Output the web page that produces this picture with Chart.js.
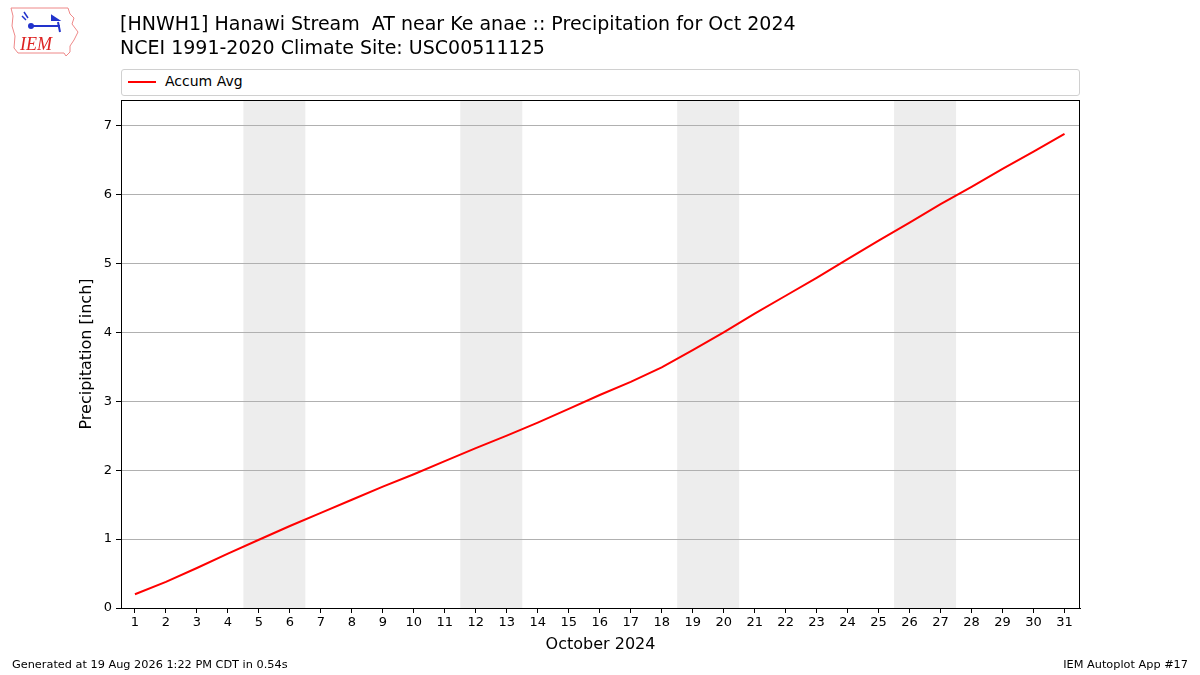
<!DOCTYPE html>
<html>
<head>
<meta charset="utf-8">
<script src="https://cdn.jsdelivr.net/npm/chart.js@4/dist/chart.umd.min.js"></script>
<style>
    body { margin: 0; background: #fff; font-family: "DejaVu Sans", sans-serif; }
    #wrap { position: relative; width: 1200px; height: 675px; overflow: hidden; }
    #chart { position: absolute; left: 0; top: 0; }
    .title { position: absolute; left: 120px; font-size: 19px; color: #000; white-space: pre; }
    #legend { position: absolute; left: 121px; top: 69px; width: 957px; height: 25px;
        border: 1px solid #d0d0d0; border-radius: 3px; background: #fff; }
    #legend .swatch { position: absolute; left: 6px; top: 11px; width: 28px; height: 2px; background: #f00; }
    #legend .lbl { position: absolute; left: 43px; top: 3px; font-size: 14px; }
    .foot { position: absolute; top: 658px; font-size: 11.3px; color: #000; }
</style>
</head>
<body>
<div id="wrap">
    <canvas id="chart" width="1200" height="675"></canvas>
    <svg style="position:absolute;left:8px;top:6px" width="72" height="54" viewBox="0 0 72 54">
        <path d="M3,2 L60,2 L62,8 L66,12 L64,18 L70,26 L66,34 L62,40 L62,46 L58,50 L56,47 L10,47 L6,42 L7,30 L4,20 L5,10 Z"
              fill="none" stroke="#e88" stroke-width="1"/>
        <path d="M22,20 L52,20 M50,16 L52,26 M44,10 L50,14 L44,14 Z" stroke="#2233cc" stroke-width="2" fill="#2233cc"/>
        <circle cx="23" cy="20" r="3" fill="#2233cc"/>
        <path d="M16,6 L20,12 M14,10 L18,14" stroke="#2233cc" stroke-width="1.5"/>
        <text x="12" y="44" font-family="Liberation Serif, serif" font-style="italic" font-size="18" fill="#d22">IEM</text>
    </svg>
    <div class="title" style="top:12px">[HNWH1] Hanawi Stream  AT near Ke anae :: Precipitation for Oct 2024</div>
    <div class="title" style="top:36px">NCEI 1991-2020 Climate Site: USC00511125</div>
    <div id="legend"><div class="swatch"></div><div class="lbl">Accum Avg</div></div>
    <div class="foot" style="left:12px">Generated at 19 Aug 2026 1:22 PM CDT in 0.54s</div>
    <div class="foot" style="right:12px">IEM Autoplot App #17</div>
</div>
<script>
// days of October 2024
const days = [1, 2, 3, 4, 5, 6, 7, 8, 9, 10, 11, 12, 13, 14, 15, 16,
    17, 18, 19, 20, 21, 22, 23, 24, 25, 26, 27, 28, 29, 30, 31];
// accumulated average precipitation [inch]
const accumAvg = [0.20, 0.38, 0.58, 0.79, 0.99, 1.19, 1.38, 1.57, 1.76, 1.94,
    2.13, 2.32, 2.50, 2.69, 2.89, 3.09, 3.28, 3.49, 3.74, 4.00,
    4.27, 4.53, 4.79, 5.06, 5.33, 5.59, 5.86, 6.11, 6.37, 6.62, 6.88];
const yTicks = [0, 1, 2, 3, 4, 5, 6, 7];
// first day (Saturday) of each weekend
const weekendStarts = [5, 12, 19, 26];

const font = 'DejaVu Sans';

// grey weekend bands + top/right frame
const framePlugin = {
    id: 'frame',
    beforeDraw: function (chart) {
        var ctx = chart.ctx, x = chart.scales.x, a = chart.chartArea;
        ctx.save();
        ctx.fillStyle = '#ededed';
        weekendStarts.forEach(function (d) {
            var x0 = x.getPixelForValue(d - 0.5);
            var x1 = x.getPixelForValue(d + 1.5);
            ctx.fillRect(x0, a.top, x1 - x0, a.bottom - a.top);
        });
        ctx.restore();
    },
    afterDraw: function (chart) {
        var ctx = chart.ctx, a = chart.chartArea;
        ctx.save();
        ctx.strokeStyle = '#000';
        ctx.lineWidth = 1;
        ctx.strokeRect(a.left + 0.5, a.top + 0.5, a.right - a.left - 1, a.bottom - a.top);
        ctx.restore();
    }
};

const data = {
    datasets: [{
        label: 'Accum Avg',
        data: days.map(function (d, i) { return { x: d, y: accumAvg[i] }; }),
        borderColor: '#ff0000',
        borderWidth: 2,
        pointRadius: 0,
        tension: 0,
        fill: false
    }]
};

const config = {
    type: 'line',
    data: data,
    options: {
        responsive: false,
        animation: false,
        layout: { padding: { top: 100, right: 120, left: 0, bottom: 0 } },
        plugins: {
            legend: { display: false },
            tooltip: { enabled: false }
        },
        scales: {
            x: {
                type: 'linear',
                min: 0.55,
                max: 31.5,
                afterBuildTicks: function (scale) {
                    scale.ticks = days.map(function (d) { return { value: d }; });
                },
                afterFit: function (scale) { scale.height = 67; },
                grid: { drawOnChartArea: false, tickColor: '#000', tickLength: 5 },
                border: { color: '#000' },
                ticks: { color: '#000', font: { family: font, size: 13 }, padding: 2, maxRotation: 0, autoSkip: false },
                title: { display: true, text: 'October 2024', color: '#000', font: { family: font, size: 16 }, padding: { top: 0, bottom: 21 } }
            },
            y: {
                min: 0,
                max: 7.37,
                afterBuildTicks: function (scale) {
                    scale.ticks = yTicks.map(function (v) { return { value: v }; });
                },
                afterFit: function (scale) { scale.width = 121; },
                grid: { color: '#b0b0b0', tickColor: '#000', tickLength: 5 },
                border: { color: '#000' },
                ticks: { color: '#000', font: { family: font, size: 13 }, padding: 4 },
                title: { display: true, text: 'Precipitation [inch]', color: '#000', font: { family: font, size: 16 }, padding: { top: 77, bottom: 0 } }
            }
        }
    },
    plugins: [framePlugin]
};

var myChart = new Chart(document.getElementById('chart'), config);
</script>
</body>
</html>
